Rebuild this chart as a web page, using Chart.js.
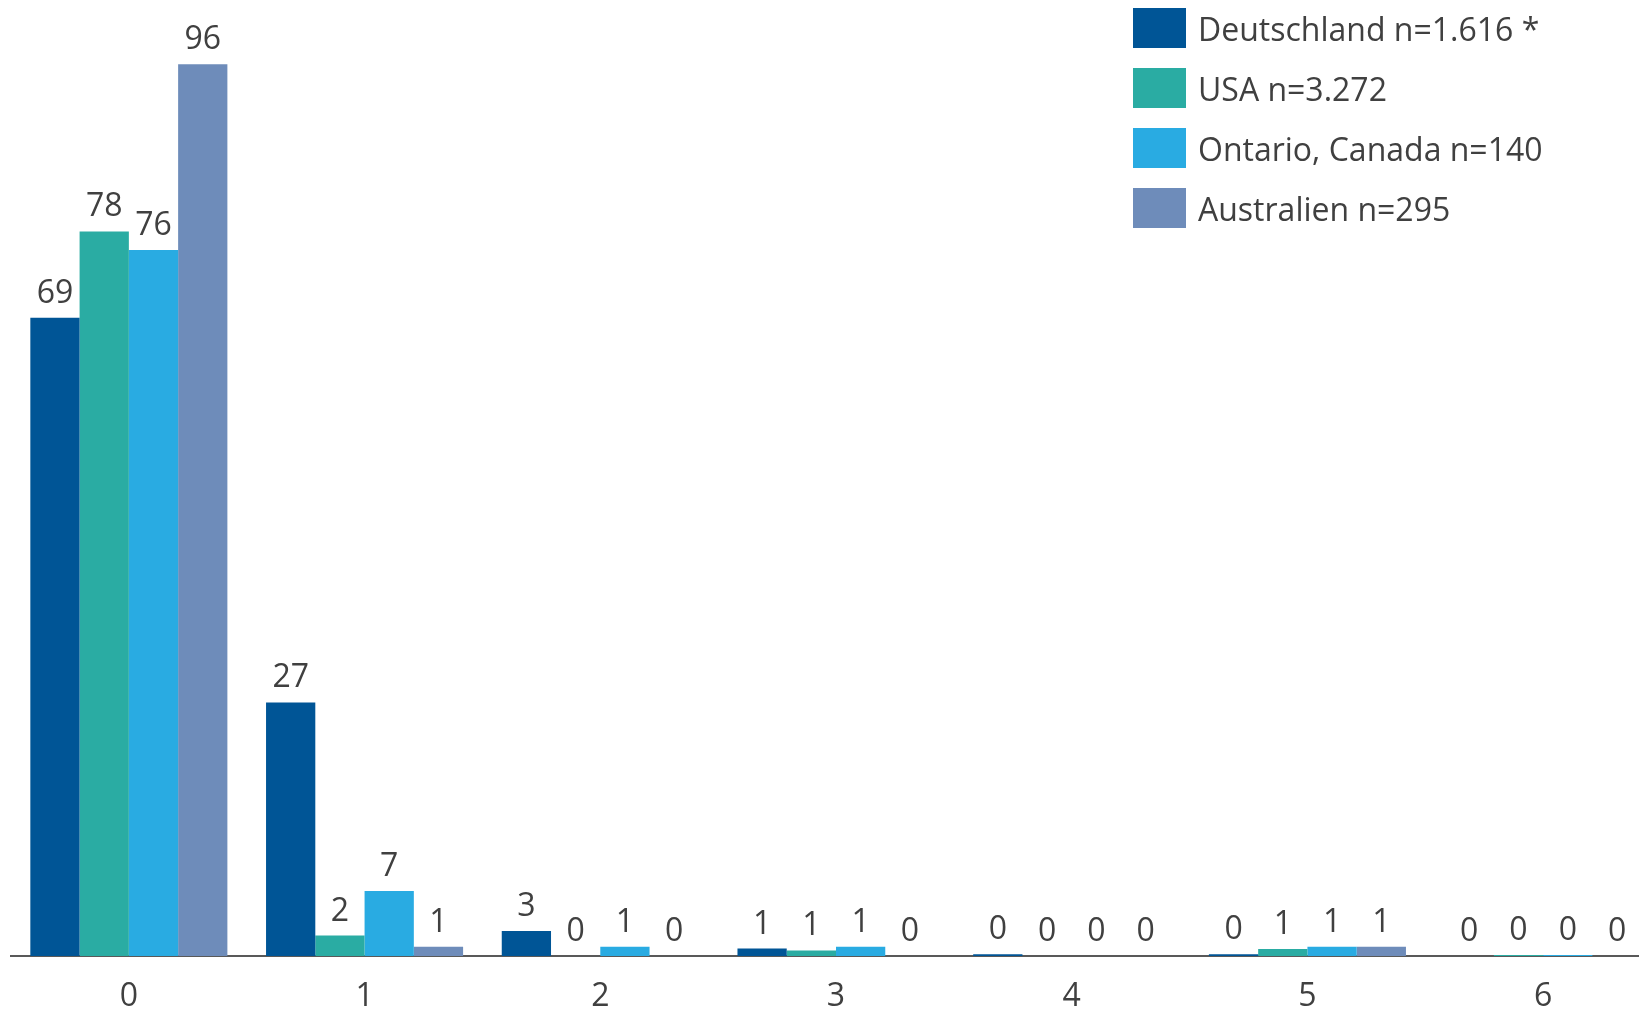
<!DOCTYPE html>
<html>
<head>
<meta charset="utf-8">
<script src="https://cdn.jsdelivr.net/npm/chart.js@4.4.1/dist/chart.umd.min.js"></script>
<style>
  html, body { margin: 0; padding: 0; background: #fff; overflow: hidden; }
  #wrap { position: relative; width: 1661px; height: 1009px; }
  #legend { position: absolute; left: 1133px; top: 8px; font-family: "Open Sans", sans-serif; font-size: 32px; color: #404040; }
  .item { display: flex; align-items: center; height: 40px; margin-bottom: 20px; }
  .box { width: 53px; height: 40px; margin-right: 12px; }
</style>
</head>
<body>
<div id="wrap">
  <canvas id="chart"></canvas>
  <div id="legend"></div>
</div>
<script>
// Categories (x axis)
const categories = ['0', '1', '2', '3', '4', '5', '6'];

// Series values in percent
const deutschland = [68.7, 27.3, 2.7, 0.8, 0.2, 0.2, 0];
const usa = [78.0, 2.2, 0, 0.6, 0, 0.75, 0.1];
const ontario = [76.0, 7.0, 1.0, 1.0, 0, 1.0, 0.1];
const australien = [96.0, 1.0, 0, 0, 0, 1.0, 0];

const seriesNames = ['Deutschland n=1.616 *', 'USA n=3.272', 'Ontario, Canada n=140', 'Australien n=295'];
const seriesColors = ['#005596', '#2aaca3', '#29abe2', '#6e8cba'];
const seriesData = [deutschland, usa, ontario, australien];

const textColor = '#404040';
const fontFamily = '"Open Sans", sans-serif';

// Draws the rounded value above each bar
const valueLabels = {
    id: 'valueLabels',
    afterDatasetsDraw(chart) {
        const ctx = chart.ctx;
        ctx.save();
        ctx.font = '32px ' + fontFamily;
        ctx.fillStyle = textColor;
        ctx.textAlign = 'center';
        ctx.textBaseline = 'alphabetic';
        chart.data.datasets.forEach((ds, i) => {
            chart.getDatasetMeta(i).data.forEach((bar, j) => {
                ctx.fillText(String(Math.round(ds.data[j])), bar.x, bar.y - 15);
            });
        });
        ctx.restore();
    }
};

const datasets = seriesData.map((d, i) => ({
    label: seriesNames[i],
    data: d,
    backgroundColor: seriesColors[i],
    borderWidth: 0,
    categoryPercentage: 0.836,
    barPercentage: 1.0
}));

new Chart(document.getElementById('chart'), {
    type: 'bar',
    data: { labels: categories, datasets: datasets },
    options: {
        responsive: true,
        maintainAspectRatio: false,
        animation: false,
        layout: { padding: { left: 11, right: 0, top: 27, bottom: 0 } },
        plugins: {
            legend: { display: false },
            tooltip: { enabled: false }
        },
        scales: {
            x: {
                grid: { display: false, drawTicks: false },
                border: { display: true, color: '#595959', width: 2 },
                ticks: { color: textColor, font: { family: fontFamily, size: 32 }, padding: 22 },
                afterFit(scale) { scale.height = 53; }
            },
            y: {
                display: false,
                min: 0,
                max: 100
            }
        }
    },
    plugins: [valueLabels]
});

// HTML legend built from the series arrays
const legendEl = document.getElementById('legend');
seriesNames.forEach((name, i) => {
    const item = document.createElement('div');
    item.className = 'item';
    const box = document.createElement('div');
    box.className = 'box';
    box.style.background = seriesColors[i];
    const label = document.createElement('span');
    label.textContent = name;
    item.appendChild(box);
    item.appendChild(label);
    legendEl.appendChild(item);
});
</script>
</body>
</html>
